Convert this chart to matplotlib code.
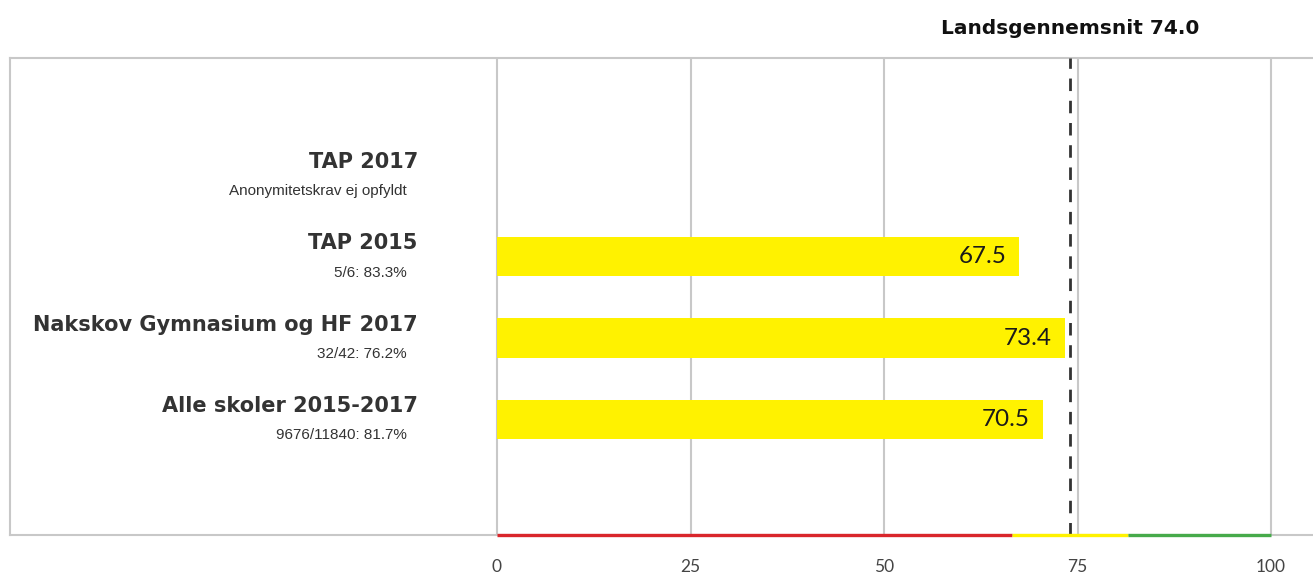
import matplotlib
matplotlib.use("Agg")
import matplotlib.pyplot as plt

# data
categories = ["Alle skoler 2015-2017", "Nakskov Gymnasium og HF 2017", "TAP 2015", "TAP 2017"]
subtitles = ["9676/11840: 81.7%", "32/42: 76.2%", "5/6: 83.3%", "Anonymitetskrav ej opfyldt"]
values = [70.5, 73.4, 67.5, None]
national_avg = 74.0
band_edges = [0, 66.5, 81.5, 100]
band_colors = ["#d9262b", "#fff200", "#46aa4a"]
xticks = [0, 25, 50, 75, 100]

W, H = 1313, 580
fig = plt.figure(figsize=(W / 100, H / 100), dpi=100)
ax = fig.add_axes([10 / W, 45 / H, 1303 / W, 477 / H])

px = 7.74  # pixels per unit
ax.set_xlim(-(497 - 10) / px, (1313 - 497) / px)
ax.set_ylim(-1.42, 4.44)

pos = list(range(len(categories)))
for p, v in zip(pos, values):
    if v is None:
        continue
    ax.barh(p, v, height=0.48, color="#fff200", zorder=2)
    ax.annotate(f"{v:.1f}", xy=(v, p), xytext=(-9.5, 0), textcoords="offset points",
                ha="right", va="center", fontsize=17.5, family="Lato", color="#1a1a1a", zorder=3)

for p, cat, sub in zip(pos, categories, subtitles):
    ax.annotate(cat, xy=(0, p), xytext=(-57, 9.5), textcoords="offset points",
                ha="right", va="center", fontsize=15, family="DejaVu Sans", fontweight="bold",
                color="#333333")
    ax.annotate(sub, xy=(0, p), xytext=(-65, -11.5), textcoords="offset points",
                ha="right", va="center", fontsize=11, family="Liberation Sans",
                color="#333333")

# gridlines
ax.set_xticks(xticks)
ax.set_xticklabels([str(t) for t in xticks], fontsize=12.5, family="Lato", color="#444444")
ax.tick_params(axis="x", length=0, pad=17)
ax.set_yticks([])
ax.grid(axis="x", color="#c8c8c8", linewidth=1.5, zorder=0)
ax.set_axisbelow(True)

for s in ["top", "bottom", "left"]:
    ax.spines[s].set_color("#c8c8c8")
    ax.spines[s].set_linewidth(1.5)
ax.spines["right"].set_visible(False)

# national average
ax.axvline(national_avg, color="#333333", linewidth=2.0, linestyle=(0, (4.5, 3.5)), zorder=4)
ax.annotate(f"Landsgennemsnit {national_avg:.1f}", xy=(national_avg, 4.44), xytext=(0, 21),
            textcoords="offset points", ha="center", va="center", fontsize=14.5,
            family="DejaVu Sans", fontweight="bold", color="#111111", annotation_clip=False)

# colour band on bottom
ymin = ax.get_ylim()[0]
for a, b, c in zip(band_edges[:-1], band_edges[1:], band_colors):
    ax.plot([a, b], [ymin, ymin], color=c, linewidth=2.4, solid_capstyle="butt",
            clip_on=False, zorder=5)

fig.savefig("out.png", dpi=100)
